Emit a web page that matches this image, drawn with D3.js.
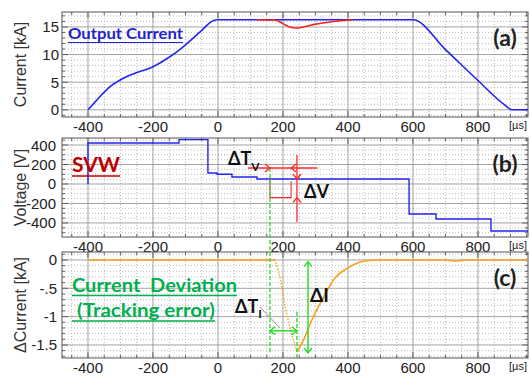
<!DOCTYPE html>
<html>
<head>
<script src="https://d3js.org/d3.v7.min.js"></script>
<style>
    body { margin: 0; background: #fff; }
    text { font-family: "Liberation Sans", Arial, sans-serif; fill: #222; }
    .note { font-family: Lato, "Open Sans", sans-serif; font-weight: bold; }
</style>
</head>
<body>
<svg id="chart" width="530" height="376"></svg>
<script>
// time axis [us]
const timeTicks = [-400, -200, 0, 200, 400, 600, 800];

// (a) output current [kA]
const currentTime = [-400, -380, -363, -332, -301, -261, -200, -148, -107, -55, -15, 0, 600, 700, 800, 880, 905, 954];
const currentKA   = [0, 1.3, 2.4, 4.2, 5.4, 6.5, 7.8, 9.6, 11.4, 14.1, 16.1, 16.3, 16.3, 10.9, 5.3, 1.0, 0, 0];
const redTime = [120, 175, 200, 220, 240, 260, 300, 350, 415];
const redKA   = [16.3, 16.25, 15.6, 15.0, 14.8, 14.95, 15.5, 15.95, 16.3];
const currentTicks = [0, 5, 10, 15];

// (b) SVW voltage [V]
const voltageTime = [-400, -400, -120, -31, -3, 43, 120, 588, 671, 840, 954];
const voltageV    = [0, 420, 455, 113, 100, 72, 51, -308, -360, -482, -482];
const redVTime = [160, 160, 225];
const redVV    = [51, -140, 28];
const voltageTicks = [-400, -200, 0, 200, 400];

// (c) current deviation [kA]
const devTime = [-400, 100, 175, 191, 206, 221, 243, 260, 289, 320, 360, 400, 452, 500, 700, 730, 760, 954];
const devKA   = [0, 0, 0, -0.32, -0.8, -1.18, -1.62, -1.45, -1.06, -0.71, -0.32, -0.14, -0.02, 0, 0, -0.02, 0, 0];
const fallSpan = [175, 243];
const devTicks = [0, -0.5, -1, -1.5];

const svg = d3.select("#chart");
const x = d3.scaleLinear().domain([-480, 954]).range([62, 528]);

const panels = [
    { key: "a", top: 12, bottom: 117, domain: [-1.3, 17.7], ticks: currentTicks, minor: d3.range(-1, 18), major: 5,
      title: "Current [kA]", fmt: d => d, labelX: 59 },
    { key: "b", top: 138, bottom: 237, domain: [-544, 472], ticks: voltageTicks, minor: d3.range(-500, 451, 50), major: 200,
      title: "Voltage [V]", fmt: d => d, labelX: 56 },
    { key: "c", top: 252, bottom: 358, domain: [-1.73, 0.14], ticks: devTicks, minor: d3.range(-17, 2).map(i => i / 10), major: 0.5,
      title: "\u0394Current [kA]", fmt: d => d === 0 ? "0" : String(d).replace("0.", "."), labelX: 57 }
];

const minorT = d3.range(-450, 951, 50);

panels.forEach(p => {
    p.y = d3.scaleLinear().domain(p.domain).range([p.bottom, p.top]);
    const g = svg.append("g");

    // minor grid
    g.selectAll(".vmin").data(minorT.filter(t => t % 200 !== 0)).join("line")
        .attr("x1", d => x(d)).attr("x2", d => x(d)).attr("y1", p.top).attr("y2", p.bottom)
        .attr("stroke", "#aaa").attr("stroke-width", 0.8).attr("stroke-dasharray", "1,2");
    g.selectAll(".hmin").data(p.minor.filter(v => Math.abs(v / p.major - Math.round(v / p.major)) > 1e-6)).join("line")
        .attr("x1", x.range()[0]).attr("x2", x.range()[1]).attr("y1", d => p.y(d)).attr("y2", d => p.y(d))
        .attr("stroke", "#aaa").attr("stroke-width", 0.8).attr("stroke-dasharray", "1,2");
    // major grid
    g.selectAll(".vmaj").data(minorT.filter(t => t % 200 === 0)).join("line")
        .attr("x1", d => x(d)).attr("x2", d => x(d)).attr("y1", p.top).attr("y2", p.bottom)
        .attr("stroke", "#999").attr("stroke-width", 0.9);
    g.selectAll(".hmaj").data(p.ticks).join("line")
        .attr("x1", x.range()[0]).attr("x2", x.range()[1]).attr("y1", d => p.y(d)).attr("y2", d => p.y(d))
        .attr("stroke", "#999").attr("stroke-width", 0.9);

    // edge ticks
    const ticks = g.append("g").attr("stroke", "#555").attr("stroke-width", 0.9);
    minorT.forEach(t => {
        const len = t % 200 === 0 ? 6 : 3;
        ticks.append("line").attr("x1", x(t)).attr("x2", x(t)).attr("y1", p.top).attr("y2", p.top + len);
        ticks.append("line").attr("x1", x(t)).attr("x2", x(t)).attr("y1", p.bottom).attr("y2", p.bottom - len);
    });
    p.minor.forEach(v => {
        const len = Math.abs(v / p.major - Math.round(v / p.major)) < 1e-6 ? 6 : 3;
        ticks.append("line").attr("x1", x.range()[0]).attr("x2", x.range()[0] + len).attr("y1", p.y(v)).attr("y2", p.y(v));
        ticks.append("line").attr("x1", x.range()[1]).attr("x2", x.range()[1] - len).attr("y1", p.y(v)).attr("y2", p.y(v));
    });

    // frame
    g.append("rect").attr("x", x.range()[0]).attr("y", p.top)
        .attr("width", x.range()[1] - x.range()[0]).attr("height", p.bottom - p.top)
        .attr("fill", "none").attr("stroke", "#555").attr("stroke-width", 1);

    // y tick labels
    g.selectAll(".yl").data(p.ticks).join("text")
        .attr("x", p.labelX).attr("y", d => p.y(d) + 5.5)
        .attr("text-anchor", "end").attr("font-size", 15).text(p.fmt);

    // x tick labels
    g.selectAll(".xl").data(timeTicks).join("text")
        .attr("x", d => x(d)).attr("y", p.bottom + 15)
        .attr("text-anchor", "middle").attr("font-size", 15).text(d => d);
    g.append("text").attr("x", 527).attr("y", p.bottom + 12)
        .attr("text-anchor", "end").attr("font-size", 11).text("[\u00b5s]");

    // y title
    g.append("text")
        .attr("transform", `translate(26,${(p.top + p.bottom) / 2}) rotate(-90)`)
        .attr("text-anchor", "middle").attr("font-size", 16).style("fill", "#333").text(p.title);

    // panel tag
    g.append("text").attr("class", "note").attr("x", 505).attr("y", p.top + 34)
        .attr("text-anchor", "middle").attr("font-size", 23).text(`(${p.key})`);
});

const [pa, pb, pc] = panels;

// (a) current traces
const lineA = d3.line().x(d => x(d[0])).y(d => pa.y(d[1])).curve(d3.curveMonotoneX);
svg.append("path").datum(d3.zip(currentTime, currentKA)).attr("d", lineA)
    .attr("fill", "none").attr("stroke", "#2424f0").attr("stroke-width", 1.6);
svg.append("path").datum(d3.zip(redTime, redKA)).attr("d", lineA)
    .attr("fill", "none").attr("stroke", "#f02424").attr("stroke-width", 1.6);

// (b) voltage traces
const lineB = d3.line().x(d => x(d[0])).y(d => pb.y(d[1])).curve(d3.curveStepAfter);
svg.append("path").datum(d3.zip(voltageTime, voltageV)).attr("d", lineB)
    .attr("fill", "none").attr("stroke", "#2424f0").attr("stroke-width", 1.4);
svg.append("path").datum(d3.zip(redVTime, redVV)).attr("d", lineB)
    .attr("fill", "none").attr("stroke", "#f03030").attr("stroke-width", 1.1);

// (c) deviation trace
const devPts = d3.zip(devTime, devKA);
const lineC = d3.line().x(d => x(d[0])).y(d => pc.y(d[1])).curve(d3.curveMonotoneX);
svg.append("path").datum(devPts.filter(d => d[0] <= fallSpan[0])).attr("d", lineC)
    .attr("fill", "none").attr("stroke", "#f7a21b").attr("stroke-width", 1.6);
svg.append("path").datum(devPts.filter(d => d[0] >= fallSpan[0] && d[0] <= fallSpan[1])).attr("d", lineC)
    .attr("fill", "none").attr("stroke", "#f7a21b").attr("stroke-width", 1.4).attr("stroke-dasharray", "1.5,1.5");
svg.append("path").datum(devPts.filter(d => d[0] >= fallSpan[1])).attr("d", lineC)
    .attr("fill", "none").attr("stroke", "#f7a21b").attr("stroke-width", 1.6);

// arrow helpers
function head(g, px, py, dir, color) {
    const s = 5;
    const v = { right: [[-s, -s * 0.8], [-s, s * 0.8]], left: [[s, -s * 0.8], [s, s * 0.8]],
                down: [[-s * 0.8, -s], [s * 0.8, -s]], up: [[-s * 0.8, s], [s * 0.8, s]] }[dir];
    g.append("path").attr("d", `M${px + v[0][0]},${py + v[0][1]}L${px},${py}L${px + v[1][0]},${py + v[1][1]}`)
        .attr("fill", "none").attr("stroke", color).attr("stroke-width", 1.4);
}
const ann = svg.append("g");
const green = "#22dd22", red = "#ff2a2a";

// green dashed markers (onset and minimum)
ann.append("line").attr("x1", x(fallSpan[0] - 15)).attr("x2", x(fallSpan[0] - 15))
    .attr("y1", pb.y(164)).attr("y2", pc.y(-1.66))
    .attr("stroke", green).attr("stroke-width", 1.3).attr("stroke-dasharray", "4,2");
ann.append("line").attr("x1", x(fallSpan[1])).attr("x2", x(fallSpan[1]))
    .attr("y1", pc.y(-0.92)).attr("y2", pc.y(-1.73))
    .attr("stroke", green).attr("stroke-width", 1.3).attr("stroke-dasharray", "4,2");

// delta T_I arrow
const yTi = pc.y(-1.25);
ann.append("line").attr("x1", x(160)).attr("x2", x(243)).attr("y1", yTi).attr("y2", yTi)
    .attr("stroke", green).attr("stroke-width", 1.4);
head(ann, x(160), yTi, "left", green);
head(ann, x(243), yTi, "right", green);
ann.append("line").attr("x1", x(129)).attr("y1", pc.y(-0.83)).attr("x2", x(191)).attr("y2", pc.y(-1.2))
    .attr("stroke", "#888").attr("stroke-width", 0.9);

// delta I arrow
ann.append("line").attr("x1", x(277)).attr("x2", x(277)).attr("y1", pc.y(-0.03)).attr("y2", pc.y(-1.64))
    .attr("stroke", green).attr("stroke-width", 1.4);
head(ann, x(277), pc.y(-0.03), "up", green);
head(ann, x(277), pc.y(-1.64), "down", green);

// delta T_V and delta V arrows
const yTv = pb.y(164);
ann.append("line").attr("x1", x(92)).attr("x2", x(305)).attr("y1", yTv).attr("y2", yTv)
    .attr("stroke", red).attr("stroke-width", 1.3);
head(ann, x(160), yTv, "right", red);
head(ann, x(225), yTv, "left", red);
ann.append("line").attr("x1", x(243)).attr("x2", x(243)).attr("y1", pb.y(298)).attr("y2", pb.y(-390))
    .attr("stroke", red).attr("stroke-width", 1.3);
head(ann, x(243), pb.y(51), "down", red);
head(ann, x(243), pb.y(-140), "up", red);

// annotation texts
function note(px, py, size, color, str, width) {
    const t = svg.append("text").attr("class", "note").attr("x", px).attr("y", py)
        .attr("font-size", size).style("fill", color).text(str);
    if (width) t.attr("textLength", width).attr("lengthAdjust", "spacingAndGlyphs");
    return t;
}
function underline(x1, x2, py, color, w) {
    svg.append("line").attr("x1", x1).attr("x2", x2).attr("y1", py).attr("y2", py)
        .attr("stroke", color).attr("stroke-width", w);
}
note(68, 39, 15, "#2222c8", "Output Current", 115);
underline(68, 183, 42.5, "#2222c8", 1.2);

note(72, 172, 21, "#c00000", "SVW", 48);
underline(72, 120, 176, "#c00000", 1.6);

note(72, 292, 19, "#00b050", "Current\u00a0\u00a0Deviation", 165);
underline(72, 237, 295.5, "#00b050", 1.3);
note(77, 317, 19, "#00b050", "(Tracking error)", 138);
underline(72, 215, 321, "#00b050", 1.3);

const tv = note(228, 165, 18, "#111", "\u0394T");
tv.append("tspan").attr("font-size", 12).attr("dy", 6).text("V");
note(304, 198, 18, "#111", "\u0394V");
const ti = note(235, 313, 18, "#111", "\u0394T");
ti.append("tspan").attr("font-size", 12).attr("dy", 5).text("I");
note(310, 302, 19, "#111", "\u0394I");
</script>
</body>
</html>
